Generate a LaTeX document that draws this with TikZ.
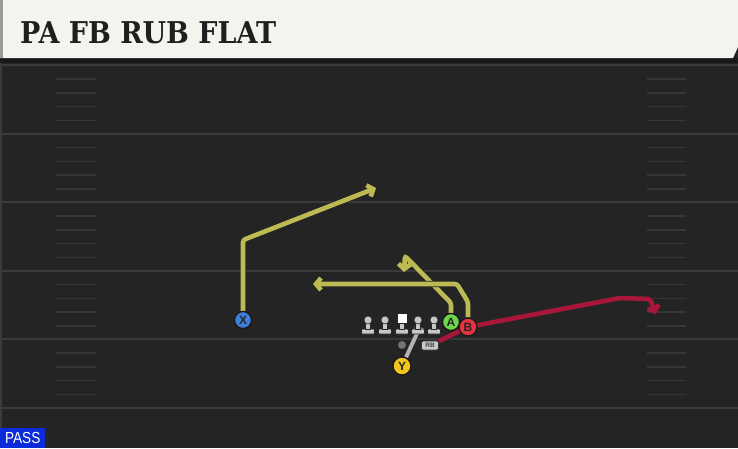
\documentclass[tikz,border=0pt]{standalone}
\usepackage{fontspec}
\usepackage{tikz}
\usetikzlibrary{arrows.meta}

\newfontfamily\titlefont{DejaVu Serif}
\newfontfamily\tagfont{Liberation Sans}

\definecolor{fieldbg}{HTML}{242424}
\definecolor{yardline}{HTML}{3A3A3A}
\definecolor{hashline}{HTML}{363636}
\definecolor{headbg}{HTML}{F5F3EE}
\definecolor{routeyellow}{HTML}{BDB953}
\definecolor{routered}{HTML}{A8163A}
\definecolor{blockgray}{HTML}{B4B4B4}
\definecolor{xblue}{HTML}{3F7FDB}
\definecolor{agreen}{HTML}{6DD64B}
\definecolor{bred}{HTML}{E3343F}
\definecolor{yyellow}{HTML}{F2C41C}
\definecolor{linegray}{HTML}{C8C8C8}
\definecolor{passblue}{HTML}{0C2CDA}

\pgfdeclarelayer{field}
\pgfdeclarelayer{routes}
\pgfsetlayers{field,routes,main}

\tikzset{
    player/.style={circle, draw=black!90, line width=1.3pt, minimum size=17pt, inner sep=0pt,
        font=\tagfont\bfseries\fontsize{12}{12}\selectfont, text=black!85},
    route/.style={line width=4.6pt, rounded corners=2.5pt,
        -{Straight Barb[length=5pt, width=12pt]},
        preaction={draw=black!85, line width=6.2pt}},
    rbtag/.style={rounded corners=2pt, fill=linegray, draw=black!80, line width=0.6pt,
        minimum width=17pt, minimum height=9pt, inner sep=0pt,
        font=\tagfont\bfseries\fontsize{6.5}{6.5}\selectfont, text=black!75},
}

\begin{document}
\begin{tikzpicture}[x=1pt, y=-1pt]
    \useasboundingbox (0,0) rectangle (738,448);

    \begin{pgfonlayer}{field}
        \fill[fieldbg] (0,0) rectangle (738,448);
        \fill[yardline] (0,58) rectangle (2,448);
        \foreach \y in {65,133.5,202,270.5,339,407.5}
            \draw[yardline, line width=2pt] (2,\y) -- (738,\y);
        \foreach \y in {65,133.5,202,270.5,339}
            \foreach \d in {14,28,41.5,55.5} {
                \draw[hashline, line width=1.6pt] (56,\y+\d) -- (96,\y+\d);
                \draw[hashline, line width=1.6pt] (647,\y+\d) -- (686,\y+\d);
            }
        % header
        \fill[black!90] (0,58) rectangle (738,63);
        \fill[headbg] (0,0) -- (738,0) -- (738,47) -- (733,58) -- (0,58) -- cycle;
        \fill[black!40] (0,0) rectangle (3,58);
    \end{pgfonlayer}

    \node[anchor=base west, inner sep=0pt, text=black!88,
        font=\titlefont\bfseries\fontsize{30}{30}\selectfont] (title) at (20,43)
        {\scalebox{0.9}[1]{PA FB RUB FLAT}};

    \node[anchor=south west, fill=passblue, text=white, inner sep=0pt,
        minimum width=45pt, minimum height=20pt] (pass) at (0,448)
        {\tagfont\fontsize{16}{16}\selectfont\scalebox{0.85}[1]{PASS}};

    % line
    \foreach \x in {368,385,418,434} {
        \filldraw[linegray, draw=black!85, line width=0.6pt, rounded corners=1pt]
            (\x-6.5,334) rectangle (\x+6.5,329);
        \filldraw[linegray, draw=black!85, line width=0.6pt] (\x-2.5,329) rectangle (\x+2.5,322);
        \filldraw[linegray, draw=black!85, line width=0.6pt] (\x,320) circle (4pt);
    }
    \filldraw[linegray, draw=black!85, line width=0.6pt, rounded corners=1pt]
        (395.5,334) rectangle (408.5,329);
    \filldraw[linegray, draw=black!85, line width=0.6pt] (399.5,329) rectangle (404.5,323);
    \filldraw[white, draw=black!85, line width=0.6pt] (397,313) rectangle (407,323);

    \node[circle, fill=black!55, inner sep=0pt, minimum size=8pt] (QB) at (402,345) {};
    \node[rbtag] (RB) at (430,345.5) {RB};
    \node[player, fill=xblue] (X) at (243,320) {X};
    \node[player, fill=agreen] (A) at (451,322) {A};
    \node[player, fill=bred, minimum size=18pt] (B) at (468,327) {B};
    \node[player, fill=yyellow, minimum size=18pt] (Y) at (402,366) {Y};

    \coordinate (Xend) at (376,188);
    \coordinate (Aend) at (404,272);
    \coordinate (Bend) at (313,284);
    \coordinate (RBend) at (656,314);
    \coordinate (Yend) at (420,327);

    \begin{pgfonlayer}{routes}
        \draw[route, routeyellow] (X) -- (243,240) -- (Xend);
        \draw[route, routeyellow] (A) -- (451,303) -- (405,256) -- (Aend);
        \draw[route, routeyellow] (B) -- (468,302) -- (457,284) -- (Bend);
        \draw[route, routered] (RB) -- (B.center) -- (620,298) -- (650,299) -- (RBend);
        \draw[blockgray, line width=3.8pt, -{Bar[width=9pt]},
            preaction={draw=black!80, line width=5pt}] (Y) -- (Yend);
    \end{pgfonlayer}
\end{tikzpicture}
\end{document}
